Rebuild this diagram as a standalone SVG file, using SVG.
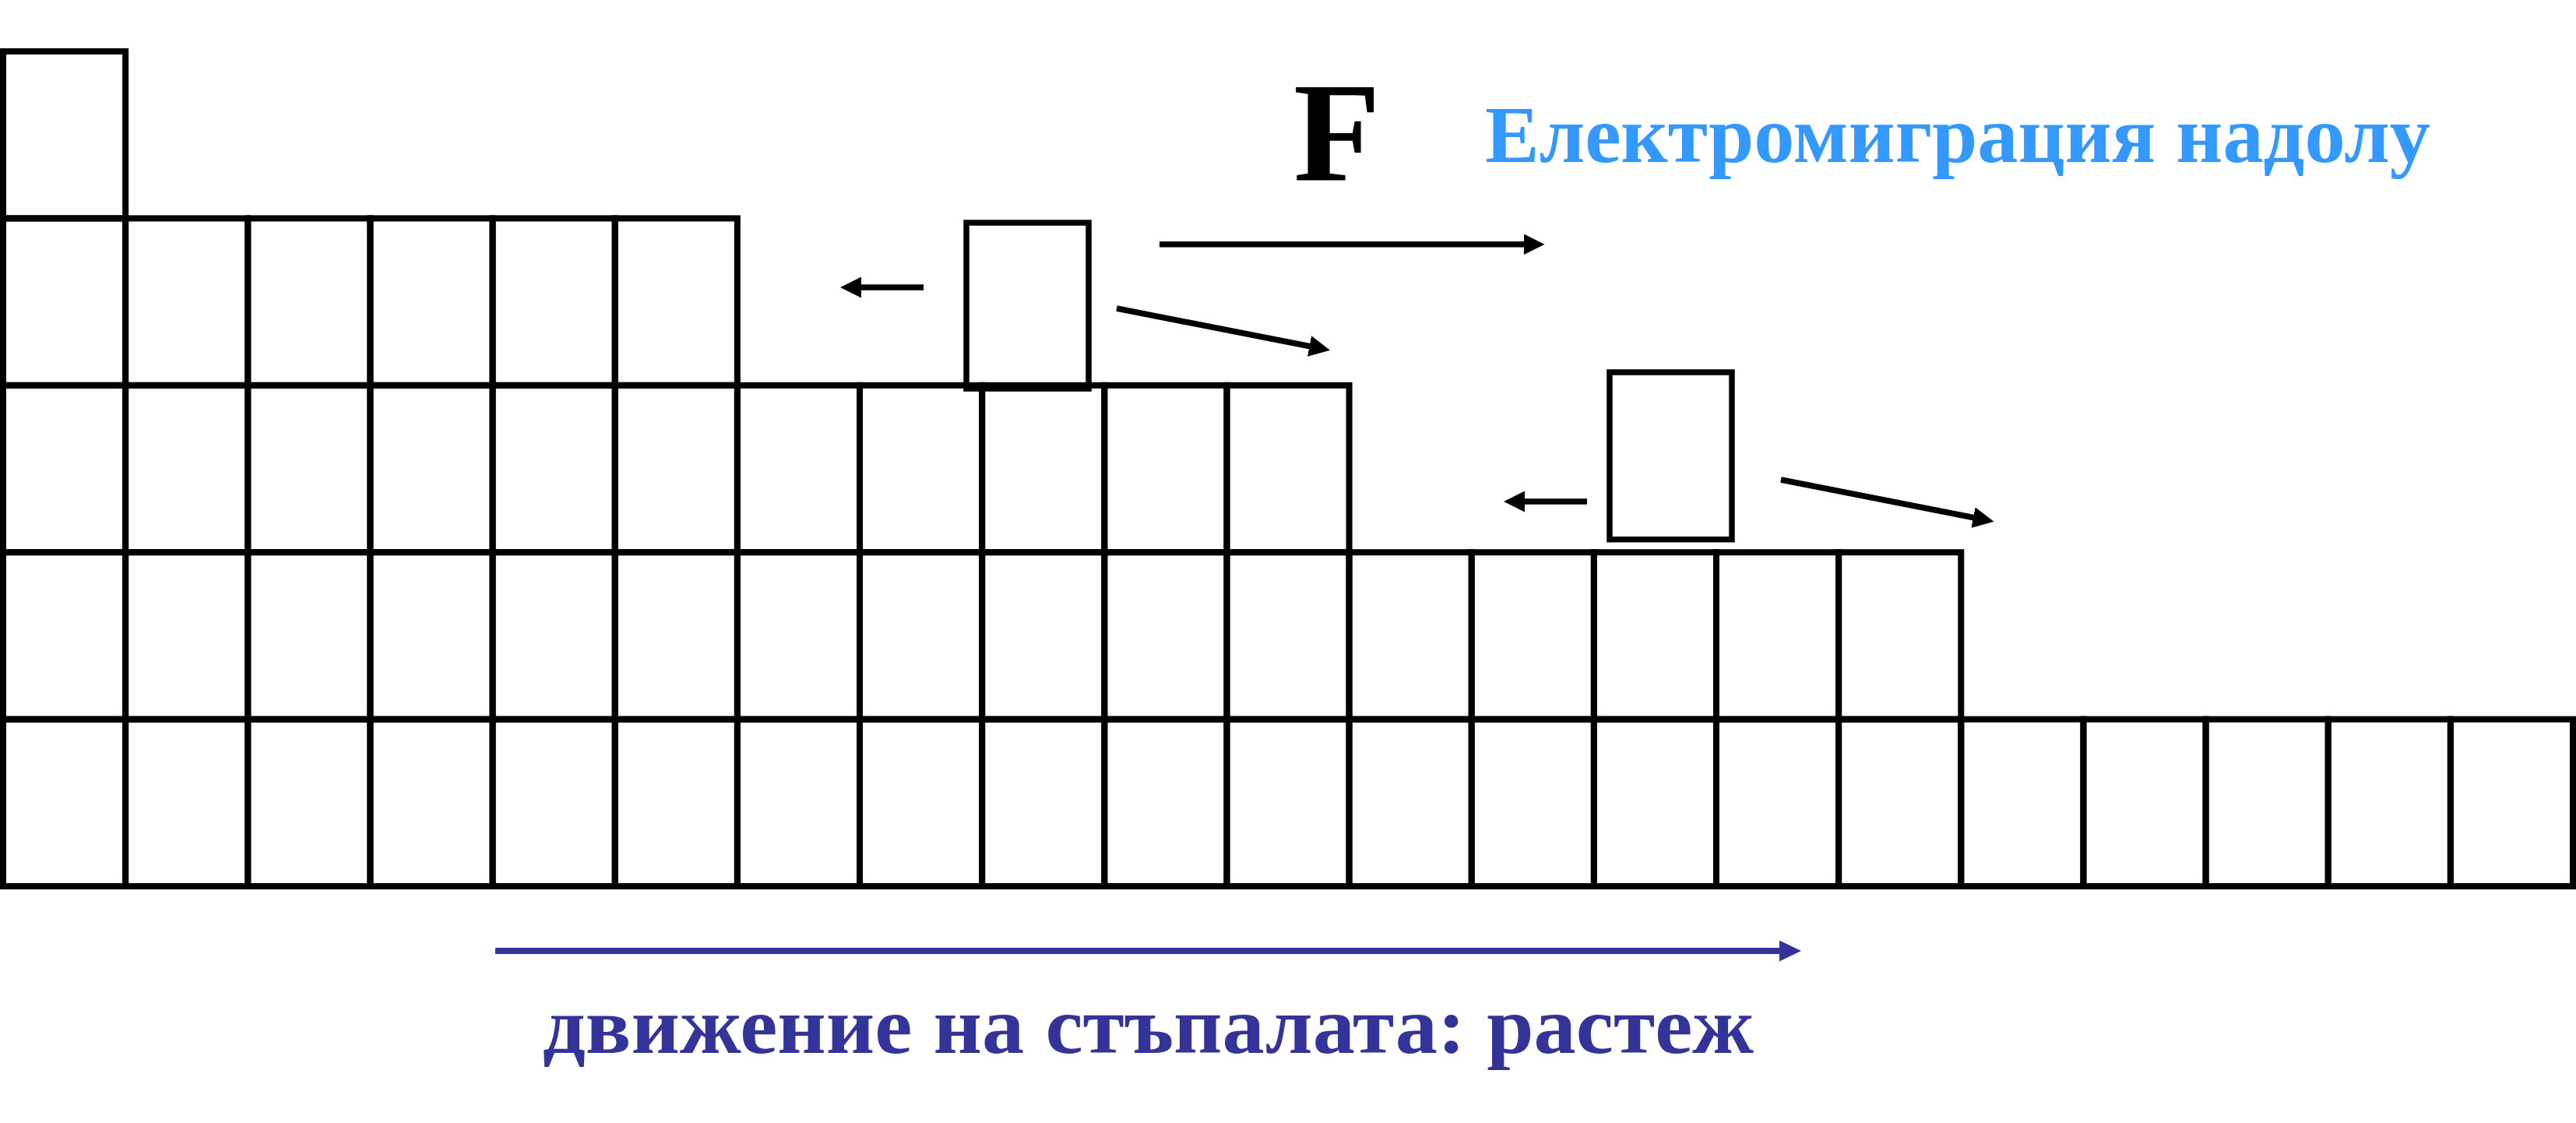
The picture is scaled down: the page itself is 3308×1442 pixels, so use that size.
<svg xmlns="http://www.w3.org/2000/svg" width="3308" height="1442" viewBox="0 0 3308 1442">
<style>
.cell{fill:none;stroke:#000;stroke-width:8}
.ad{fill:none;stroke:#000;stroke-width:7.5}
.arr{fill:none;stroke:#000;stroke-width:7.5}
.arrb{fill:none;stroke:#333399;stroke-width:8}
.serif{font-family:"Liberation Serif","Times New Roman","DejaVu Serif",serif;font-weight:bold}
</style>
<defs>
<marker id="head" markerUnits="userSpaceOnUse" viewBox="0 0 27 27" markerWidth="27" markerHeight="27" refX="1" refY="13.5" orient="auto"><path d="M0,0 L27,13.5 L0,27 z" fill="#000"/></marker>
<marker id="headb" markerUnits="userSpaceOnUse" viewBox="0 0 28 27" markerWidth="28" markerHeight="27" refX="1" refY="13.5" orient="auto"><path d="M0,0 L28,13.5 L0,27 z" fill="#333399"/></marker>
</defs>
<rect width="3308" height="1442" fill="#fff"/>
<g id="crystal">
<rect class="cell" x="4" y="66" width="157.14" height="214.4"/>
<g id="row1">
<rect class="cell" x="4" y="280.4" width="157.14" height="214.4"/>
<rect class="cell" x="161.14" y="280.4" width="157.14" height="214.4"/>
<rect class="cell" x="318.29" y="280.4" width="157.14" height="214.4"/>
<rect class="cell" x="475.43" y="280.4" width="157.14" height="214.4"/>
<rect class="cell" x="632.57" y="280.4" width="157.14" height="214.4"/>
<rect class="cell" x="789.71" y="280.4" width="157.14" height="214.4"/>
</g>
<g id="row2">
<rect class="cell" x="4" y="494.8" width="157.14" height="214.4"/>
<rect class="cell" x="161.14" y="494.8" width="157.14" height="214.4"/>
<rect class="cell" x="318.29" y="494.8" width="157.14" height="214.4"/>
<rect class="cell" x="475.43" y="494.8" width="157.14" height="214.4"/>
<rect class="cell" x="632.57" y="494.8" width="157.14" height="214.4"/>
<rect class="cell" x="789.71" y="494.8" width="157.14" height="214.4"/>
<rect class="cell" x="946.86" y="494.8" width="157.14" height="214.4"/>
<rect class="cell" x="1104" y="494.8" width="157.14" height="214.4"/>
<rect class="cell" x="1261.14" y="494.8" width="157.14" height="214.4"/>
<rect class="cell" x="1418.29" y="494.8" width="157.14" height="214.4"/>
<rect class="cell" x="1575.43" y="494.8" width="157.14" height="214.4"/>
</g>
<g id="row3">
<rect class="cell" x="4" y="709.2" width="157.14" height="214.4"/>
<rect class="cell" x="161.14" y="709.2" width="157.14" height="214.4"/>
<rect class="cell" x="318.29" y="709.2" width="157.14" height="214.4"/>
<rect class="cell" x="475.43" y="709.2" width="157.14" height="214.4"/>
<rect class="cell" x="632.57" y="709.2" width="157.14" height="214.4"/>
<rect class="cell" x="789.71" y="709.2" width="157.14" height="214.4"/>
<rect class="cell" x="946.86" y="709.2" width="157.14" height="214.4"/>
<rect class="cell" x="1104" y="709.2" width="157.14" height="214.4"/>
<rect class="cell" x="1261.14" y="709.2" width="157.14" height="214.4"/>
<rect class="cell" x="1418.29" y="709.2" width="157.14" height="214.4"/>
<rect class="cell" x="1575.43" y="709.2" width="157.14" height="214.4"/>
<rect class="cell" x="1732.57" y="709.2" width="157.14" height="214.4"/>
<rect class="cell" x="1889.71" y="709.2" width="157.14" height="214.4"/>
<rect class="cell" x="2046.86" y="709.2" width="157.14" height="214.4"/>
<rect class="cell" x="2204" y="709.2" width="157.14" height="214.4"/>
<rect class="cell" x="2361.14" y="709.2" width="157.14" height="214.4"/>
</g>
<g id="row4">
<rect class="cell" x="4" y="923.6" width="157.14" height="214.4"/>
<rect class="cell" x="161.14" y="923.6" width="157.14" height="214.4"/>
<rect class="cell" x="318.29" y="923.6" width="157.14" height="214.4"/>
<rect class="cell" x="475.43" y="923.6" width="157.14" height="214.4"/>
<rect class="cell" x="632.57" y="923.6" width="157.14" height="214.4"/>
<rect class="cell" x="789.71" y="923.6" width="157.14" height="214.4"/>
<rect class="cell" x="946.86" y="923.6" width="157.14" height="214.4"/>
<rect class="cell" x="1104" y="923.6" width="157.14" height="214.4"/>
<rect class="cell" x="1261.14" y="923.6" width="157.14" height="214.4"/>
<rect class="cell" x="1418.29" y="923.6" width="157.14" height="214.4"/>
<rect class="cell" x="1575.43" y="923.6" width="157.14" height="214.4"/>
<rect class="cell" x="1732.57" y="923.6" width="157.14" height="214.4"/>
<rect class="cell" x="1889.71" y="923.6" width="157.14" height="214.4"/>
<rect class="cell" x="2046.86" y="923.6" width="157.14" height="214.4"/>
<rect class="cell" x="2204" y="923.6" width="157.14" height="214.4"/>
<rect class="cell" x="2361.14" y="923.6" width="157.14" height="214.4"/>
<rect class="cell" x="2518.29" y="923.6" width="157.14" height="214.4"/>
<rect class="cell" x="2675.43" y="923.6" width="157.14" height="214.4"/>
<rect class="cell" x="2832.57" y="923.6" width="157.14" height="214.4"/>
<rect class="cell" x="2989.71" y="923.6" width="157.14" height="214.4"/>
<rect class="cell" x="3146.86" y="923.6" width="157.14" height="214.4"/>
</g>
</g>
<g id="adatom1"><rect class="ad" x="1241" y="286" width="157" height="213"/></g>
<g id="adatom2"><rect class="ad" x="2067" y="478" width="157" height="214.7"/></g>
<g id="connectors">
<line class="arr" x1="1186" y1="369" x2="1105" y2="369" marker-end="url(#head)"/>
<line class="arr" x1="1434" y1="396" x2="1682.5" y2="444.8" marker-end="url(#head)"/>
<line class="arr" x1="1489" y1="313.7" x2="1957.5" y2="313.7" marker-end="url(#head)"/>
<line class="arr" x1="2038" y1="644" x2="1957" y2="644" marker-end="url(#head)"/>
<line class="arr" x1="2287" y1="616" x2="2535" y2="664.8" marker-end="url(#head)"/>
<line class="arrb" x1="636" y1="1221" x2="2286" y2="1221" marker-end="url(#headb)"/>
</g>
<g id="label-F"><text class="serif" x="1661" y="231.7" font-size="183" fill="#000">F</text></g>
<g id="label-em"><text class="serif" x="1907" y="208.3" font-size="103" fill="#3399FF" textLength="1214" lengthAdjust="spacingAndGlyphs">Електромиграция надолу</text></g>
<g id="label-motion"><text class="serif" x="697" y="1352.3" font-size="103" fill="#333399" textLength="1555" lengthAdjust="spacingAndGlyphs">движение на стъпалата: растеж</text></g>
</svg>
